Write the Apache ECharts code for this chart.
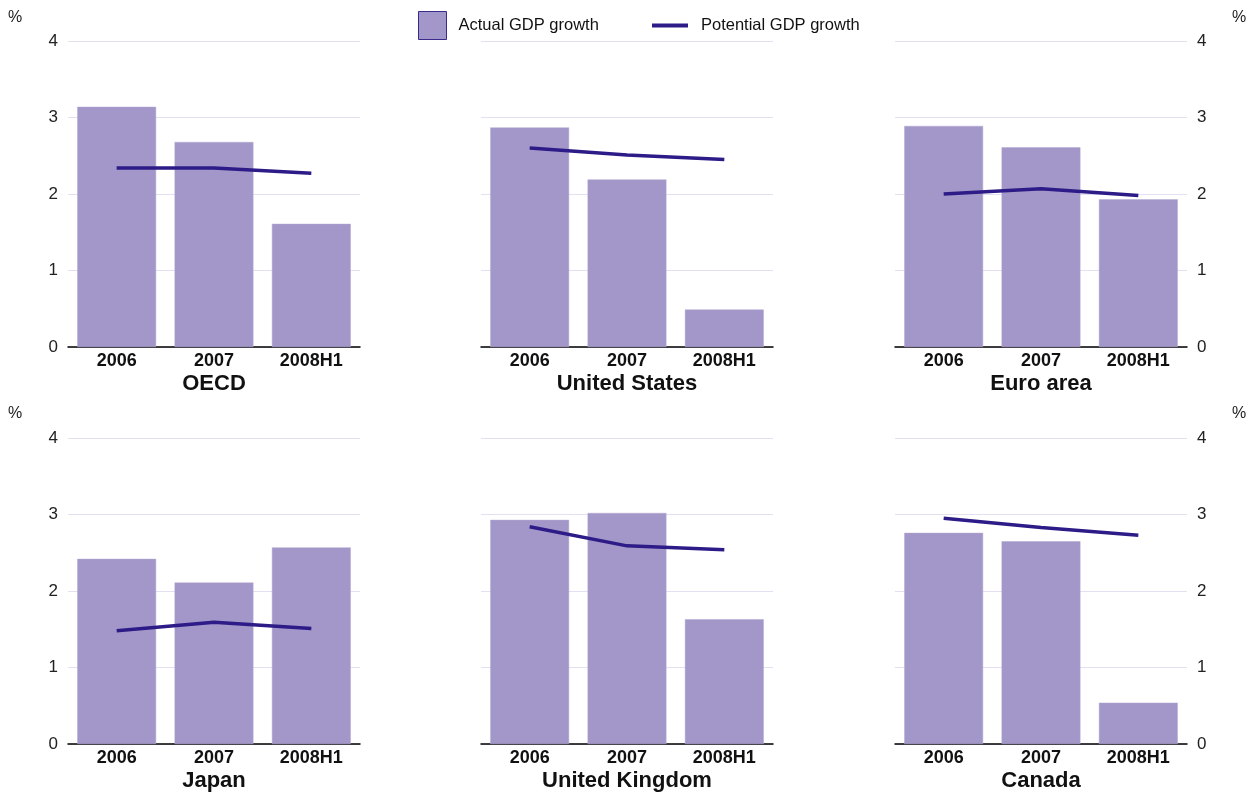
<!DOCTYPE html>
<html>
<head>
<meta charset="utf-8">
<script src="https://cdn.jsdelivr.net/npm/echarts@6/dist/echarts.min.js"></script>
<style>
html,body{margin:0;padding:0;background:#fff;}
#chart{width:1259px;height:792px;}
</style>
</head>
<body>
<div id="chart"></div>
<script>
const categories = ['2006', '2007', '2008H1'];
const panelTitles = ['OECD', 'United States', 'Euro area', 'Japan', 'United Kingdom', 'Canada'];
const yTicks = [0, 1, 2, 3, 4];

const actualOECD = [3.14, 2.68, 1.61];
const potentialOECD = [2.34, 2.34, 2.27];
const actualUS = [2.87, 2.19, 0.49];
const potentialUS = [2.60, 2.51, 2.45];
const actualEuro = [2.89, 2.61, 1.93];
const potentialEuro = [2.00, 2.07, 1.98];
const actualJapan = [2.42, 2.11, 2.57];
const potentialJapan = [1.48, 1.59, 1.51];
const actualUK = [2.93, 3.02, 1.63];
const potentialUK = [2.84, 2.59, 2.54];
const actualCanada = [2.76, 2.65, 0.54];
const potentialCanada = [2.95, 2.83, 2.73];

const actualAll = [actualOECD, actualUS, actualEuro, actualJapan, actualUK, actualCanada];
const potentialAll = [potentialOECD, potentialUS, potentialEuro, potentialJapan, potentialUK, potentialCanada];

const FONT = '"Liberation Sans", Arial, Helvetica, sans-serif';
const BAR_COLOR = '#a396c8';
const LINE_COLOR = '#2d1c88';

const colLeft = [68, 481, 895];
const rowTop = [41, 438];
const gridW = 292, gridH = 306;

const grids = [], xAxes = [], yAxes = [], series = [], titles = [];
for (let i = 0; i < 6; i++) {
  const r = Math.floor(i / 3), c = i % 3;
  grids.push({left: colLeft[c], top: rowTop[r], width: gridW, height: gridH, containLabel: false});
  xAxes.push({
    type: 'category', gridIndex: i, data: categories,
    axisLine: {show: true, lineStyle: {color: '#000', width: 1.5}},
    axisTick: {show: false},
    axisLabel: {fontFamily: FONT, fontSize: 18, fontWeight: 'bold', color: '#111', margin: 5}
  });
  yAxes.push({
    type: 'value', gridIndex: i, min: yTicks[0], max: yTicks[yTicks.length - 1], interval: 1,
    position: c === 2 ? 'right' : 'left',
    axisLine: {show: false}, axisTick: {show: false},
    axisLabel: {show: c !== 1, fontFamily: FONT, fontSize: 17, color: '#222', margin: 10},
    splitLine: {show: true, lineStyle: {color: '#e4e0f2', width: 1}}
  });
  series.push({
    name: 'Actual GDP growth', type: 'bar', xAxisIndex: i, yAxisIndex: i,
    data: actualAll[i], barCategoryGap: '19%',
    itemStyle: {color: BAR_COLOR, borderColor: '#b3a8d3', borderWidth: 0.5},
    silent: true
  });
  series.push({
    name: 'Potential GDP growth', type: 'line', xAxisIndex: i, yAxisIndex: i,
    data: potentialAll[i], symbol: 'none', smooth: false,
    lineStyle: {color: LINE_COLOR, width: 3.5}, itemStyle: {color: LINE_COLOR},
    z: 5, silent: true
  });
  titles.push({
    text: panelTitles[i], left: colLeft[c] + gridW / 2, textAlign: 'center',
    top: rowTop[r] + gridH + 26, padding: 0,
    textStyle: {fontFamily: FONT, fontSize: 22, fontWeight: 'bold', color: '#111'}
  });
}
// percent unit labels
[[8, 10], [1232, 10], [8, 406], [1232, 406]].forEach(p => {
  titles.push({text: '%', left: p[0], top: p[1], padding: 0,
    textStyle: {fontFamily: FONT, fontSize: 16, fontWeight: 'normal', color: '#222'}});
});

const chart = echarts.init(document.getElementById('chart'));
chart.setOption({
  animation: false,
  backgroundColor: '#fff',
  title: titles,
  legend: [
    {data: ['Actual GDP growth'], left: 418, top: 11, padding: 0, itemWidth: 28, itemHeight: 28,
     icon: 'rect', itemStyle: {color: BAR_COLOR, borderColor: '#3a2a8c', borderWidth: 1},
     textStyle: {fontFamily: FONT, fontSize: 16.5, color: '#111', padding: [0, 0, 0, 7]}, selectedMode: false},
    {data: ['Potential GDP growth'], left: 652, top: 17, padding: 0, itemWidth: 36, itemHeight: 4,
     icon: 'rect', itemStyle: {color: LINE_COLOR},
     textStyle: {fontFamily: FONT, fontSize: 16.5, color: '#111', padding: [0, 0, 0, 8]}, selectedMode: false}
  ],
  grid: grids,
  xAxis: xAxes,
  yAxis: yAxes,
  series: series
});
</script>
</body>
</html>
